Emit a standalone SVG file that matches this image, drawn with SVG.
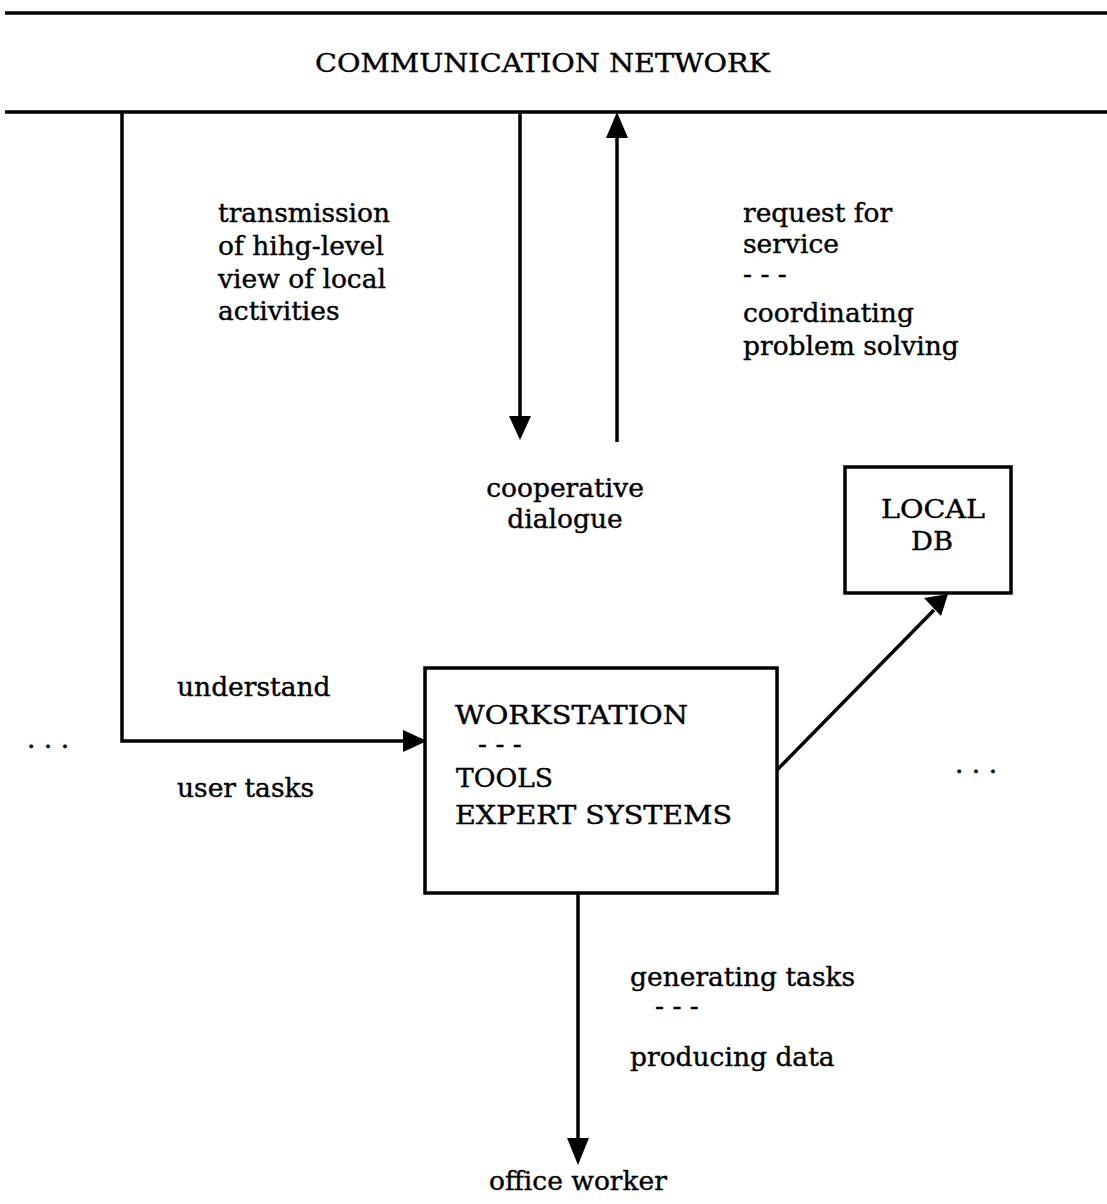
<svg xmlns="http://www.w3.org/2000/svg" width="1107" height="1204" viewBox="0 0 1107 1204">
<style>
text{font-family:"DejaVu Serif","Liberation Serif",serif;font-size:26.5px;fill:#000;stroke:#000;stroke-width:0.4}
.cap{font-size:25.5px}
.ln{stroke:#000;stroke-width:3.5;fill:none}
.box{stroke:#000;stroke-width:3.5;fill:#fff}
.head{fill:#000}
</style>
<g id="network">
<line class="ln" x1="5" y1="13" x2="1107" y2="13"/>
<line class="ln" x1="5" y1="112" x2="1107" y2="112"/>
<text class="cap" x="315" y="72" textLength="455" lengthAdjust="spacingAndGlyphs">COMMUNICATION NETWORK</text>
</g>
<g id="connectors">
<path class="ln" d="M122,112 V741 H403" />
<path class="head" d="M403,730 L427,741 L403,752 z"/>
<line class="ln" x1="520" y1="112" x2="520" y2="418"/>
<path class="head" d="M509,416 L520,440 L531,416 z"/>
<line class="ln" x1="617" y1="442" x2="617" y2="136"/>
<path class="head" d="M606,138 L617,112 L628,138 z"/>
<line class="ln" x1="777" y1="770" x2="934" y2="610"/>
<path class="head" d="M924,598 L948,594 L941,616 z"/>
<line class="ln" x1="578" y1="893" x2="578" y2="1140"/>
<path class="head" d="M567,1138 L578,1165 L589,1138 z"/>
</g>
<g id="labels">
<text x="218" y="222">transmission</text>
<text x="218" y="255">of hihg-level</text>
<text x="218" y="288">view of local</text>
<text x="218" y="320">activities</text>
<text x="743" y="222">request for</text>
<text x="743" y="253">service</text>
<text x="743" y="283">- - -</text>
<text x="743" y="322">coordinating</text>
<text x="743" y="355">problem solving</text>
<text x="565" y="497" text-anchor="middle">cooperative</text>
<text x="565" y="528" text-anchor="middle">dialogue</text>
<text x="177" y="696">understand</text>
<text x="177" y="797">user tasks</text>
<text x="27" y="748">. . .</text>
<text x="955" y="773">. . .</text>
<text x="630" y="986">generating tasks</text>
<text x="655" y="1015">- - -</text>
<text x="630" y="1066">producing data</text>
<text x="578" y="1190" text-anchor="middle">office worker</text>
</g>
<g id="workstation">
<rect class="box" x="425" y="668" width="352" height="225"/>
<text class="cap" x="455" y="724" textLength="233" lengthAdjust="spacingAndGlyphs">WORKSTATION</text>
<text x="478" y="753">- - -</text>
<text class="cap" x="456" y="787" textLength="97" lengthAdjust="spacingAndGlyphs">TOOLS</text>
<text class="cap" x="455" y="824" textLength="277" lengthAdjust="spacingAndGlyphs">EXPERT SYSTEMS</text>
</g>
<g id="localdb">
<rect class="box" x="845" y="467" width="166" height="126"/>
<text class="cap" x="881" y="518" textLength="104" lengthAdjust="spacingAndGlyphs">LOCAL</text>
<text class="cap" x="911" y="550" textLength="42" lengthAdjust="spacingAndGlyphs">DB</text>
</g>
</svg>
